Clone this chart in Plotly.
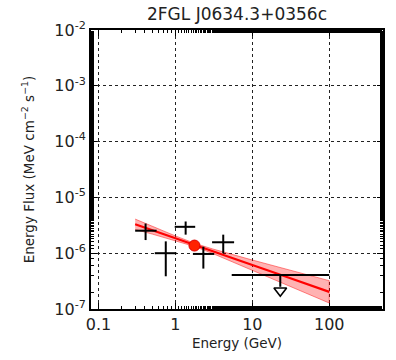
import plotly.graph_objects as go
import numpy as np

# Data points (energy in GeV, energy flux in MeV cm^-2 s^-1)
pt_e = [0.41, 0.75, 1.36, 2.31, 4.19]
pt_elo = [0.30, 0.54, 0.98, 1.69, 3.0]
pt_ehi = [0.57, 1.03, 1.81, 3.2, 5.8]
pt_f = [2.53e-6, 1.0e-6, 2.97e-6, 0.97e-6, 1.57e-6]
pt_flo = [1.72e-6, 0.386e-6, 2.15e-6, 0.53e-6, 1.0e-6]
pt_fhi = [3.4e-6, 1.63e-6, 3.7e-6, 1.31e-6, 2.15e-6]

# Upper limit
ul_e = [23.1]
ul_elo = [5.4]
ul_ehi = [100.0]
ul_f = [4.07e-7]
ul_stem = [2.5e-7]
ul_tip = [2.13e-7]

# Model (power law) and butterfly band
mod_e = [0.3, 0.5, 1.0, 1.77, 3.0, 10.0, 30.0, 100.0]
mod_f = [3.30e-6, 2.59e-6, 1.85e-6, 1.41e-6, 1.094e-6, 6.14e-7, 3.62e-7, 2.03e-7]
band_hi = [4.09e-6, 3.03e-6, 2.04e-6, 1.51e-6, 1.20e-6, 7.55e-7, 5.03e-7, 3.22e-7]
band_lo = [2.66e-6, 2.20e-6, 1.68e-6, 1.32e-6, 0.998e-6, 4.99e-7, 2.61e-7, 1.28e-7]

# Decorrelation point
dec_e = [1.77]
dec_f = [1.37e-6]

fig = go.Figure()

# band
fig.add_trace(go.Scatter(
    x=mod_e + mod_e[::-1], y=band_hi + band_lo[::-1],
    fill="toself", fillcolor="rgba(255,0,0,0.3)",
    line=dict(color="rgba(255,0,0,0.45)", width=1), mode="lines",
    hoverinfo="skip", showlegend=False))
fig.add_trace(go.Scatter(x=mod_e, y=mod_f, mode="lines",
                         line=dict(color="#ff0000", width=2.2), showlegend=False))

# points
fig.add_trace(go.Scatter(
    x=pt_e, y=pt_f, mode="markers", marker=dict(size=0.1, color="black"),
    error_x=dict(type="data", symmetric=False,
                 array=[h - c for h, c in zip(pt_ehi, pt_e)],
                 arrayminus=[c - l for l, c in zip(pt_elo, pt_e)],
                 color="black", thickness=2, width=0),
    error_y=dict(type="data", symmetric=False,
                 array=[h - c for h, c in zip(pt_fhi, pt_f)],
                 arrayminus=[c - l for l, c in zip(pt_flo, pt_f)],
                 color="black", thickness=2, width=0),
    showlegend=False))

# upper limit
fig.add_trace(go.Scatter(
    x=ul_e, y=ul_f, mode="markers", marker=dict(size=0.1, color="black"),
    error_x=dict(type="data", symmetric=False,
                 array=[ul_ehi[0] - ul_e[0]], arrayminus=[ul_e[0] - ul_elo[0]],
                 color="black", thickness=2, width=0),
    error_y=dict(type="data", symmetric=False,
                 array=[0], arrayminus=[ul_f[0] - ul_stem[0]],
                 color="black", thickness=2, width=0),
    showlegend=False))
fig.add_trace(go.Scatter(
    x=ul_e, y=ul_tip, mode="markers",
    marker=dict(symbol="triangle-down", size=11, color="white",
                line=dict(color="black", width=1.6)),
    showlegend=False))

# decorrelation marker
fig.add_trace(go.Scatter(
    x=dec_e, y=dec_f, mode="markers",
    marker=dict(symbol="circle", size=11, color="#ff2200",
                line=dict(color="#dd0000", width=1)),
    showlegend=False))

font = "DejaVu Sans"
fig.update_layout(
    width=396, height=360,
    margin=dict(l=91, r=11, t=30, b=48),
    paper_bgcolor="white", plot_bgcolor="white",
    title=dict(text="2FGL J0634.3+0356c", x=0.5, xref="paper", xanchor="center",
               y=0.962, yanchor="middle", font=dict(family=font, size=17, color="#222")),
    font=dict(family=font, color="#222"),
)
fig.update_xaxes(
    type="log", range=[np.log10(0.08), np.log10(500)],
    tickvals=[0.1, 1, 10, 100], ticktext=["0.1", "1", "10", "100"],
    ticks="inside", ticklen=6, tickwidth=1, tickcolor="black",
    tickfont=dict(size=16, family=font),
    showgrid=True, gridcolor="#222", griddash="dot", gridwidth=0.6,
    showline=True, linecolor="black", linewidth=2, mirror="allticks",
    zeroline=False,
    minor=dict(ticks="inside", ticklen=3, tickcolor="black", showgrid=False),
    title=dict(text="Energy (GeV)", font=dict(size=13.5, family=font), standoff=5),
)
fig.update_yaxes(
    type="log", range=[-7, -2],
    tickvals=[1e-7, 1e-6, 1e-5, 1e-4, 1e-3, 1e-2],
    ticktext=["10<sup>-7</sup>", "10<sup>-6</sup>", "10<sup>-5</sup>",
              "10<sup>-4</sup>", "10<sup>-3</sup>", "10<sup>-2</sup>"],
    ticks="inside", ticklen=6, tickwidth=1, tickcolor="black",
    tickfont=dict(size=16, family=font),
    showgrid=True, gridcolor="#222", griddash="dot", gridwidth=0.6,
    showline=True, linecolor="black", linewidth=2, mirror="allticks",
    zeroline=False,
    minor=dict(ticks="inside", ticklen=3, tickcolor="black", showgrid=False),
    title=dict(text="Energy Flux (MeV cm<sup>−2</sup> s<sup>−1</sup>)",
               font=dict(size=13.5, family=font), standoff=17),
)

fig.write_html("out.html")
